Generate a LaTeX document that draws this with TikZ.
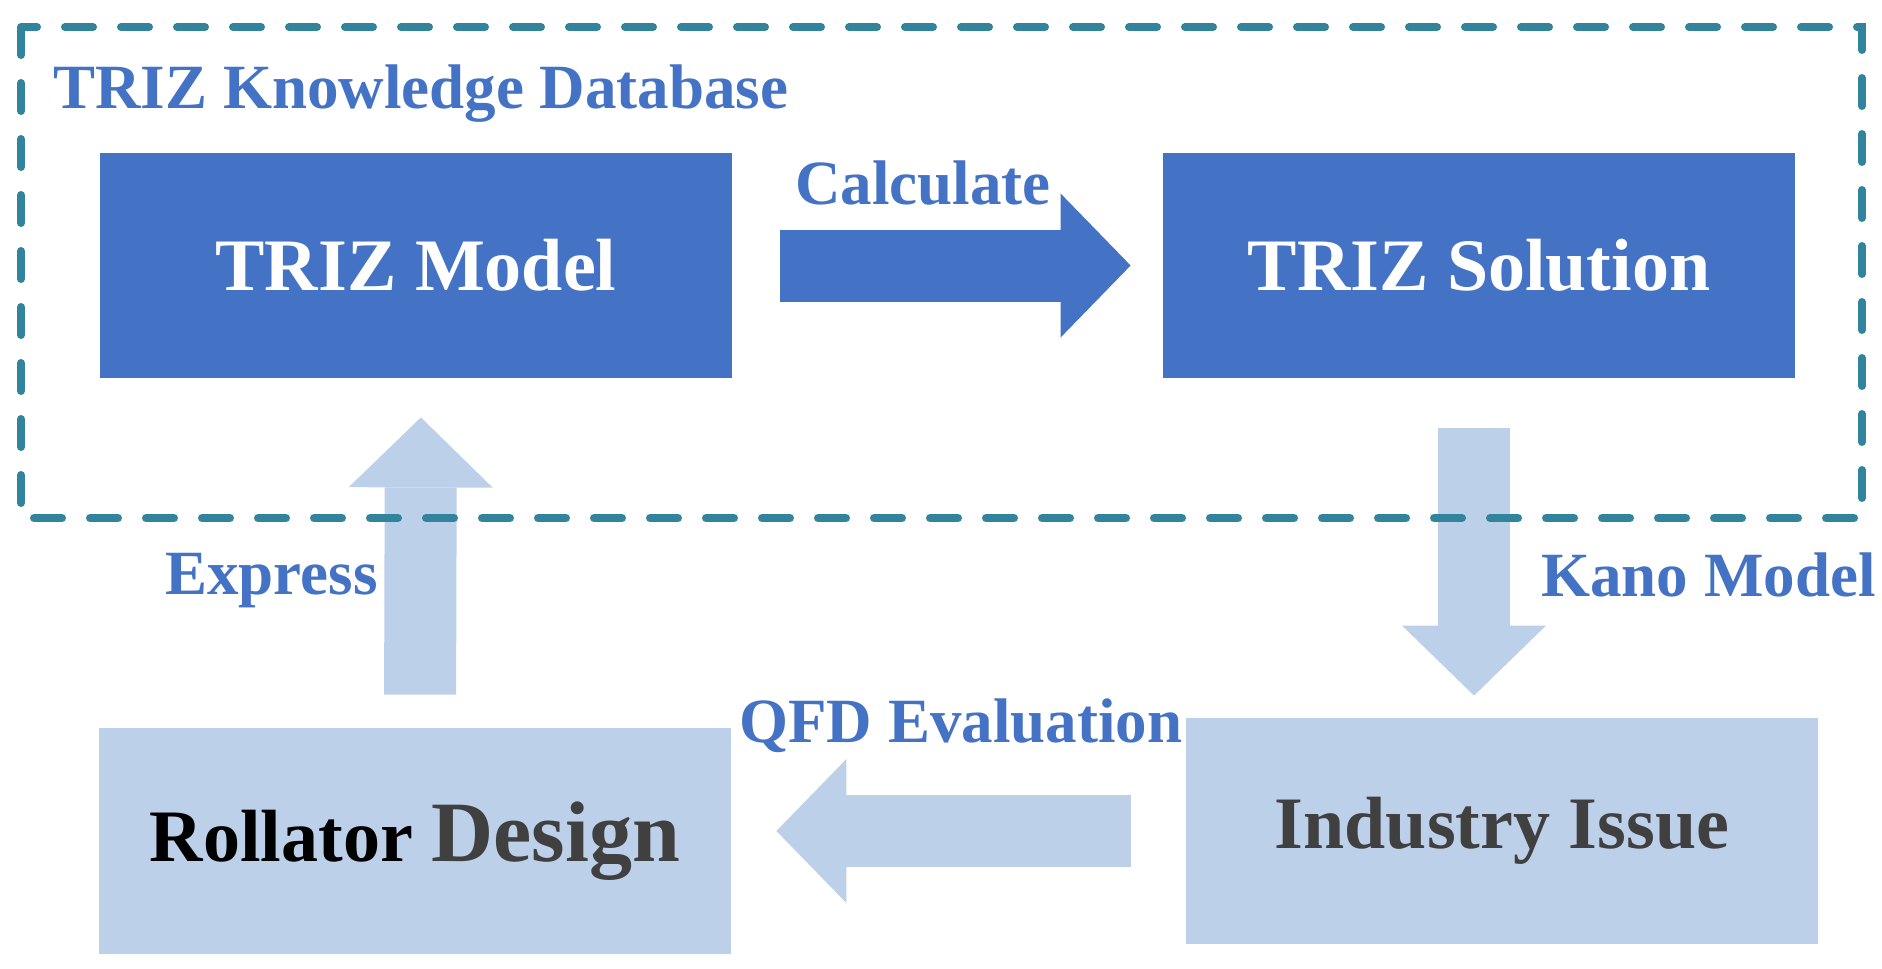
\documentclass[tikz,border=0pt]{standalone}
\usepackage{fontspec}
\setmainfont{Liberation Serif}
\usetikzlibrary{arrows.meta}

\definecolor{trizblue}{HTML}{4472C4}
\definecolor{paleblue}{HTML}{BDD0EA}
\definecolor{kbteal}{HTML}{31849B}
\definecolor{textgray}{HTML}{404040}

\tikzset{
  darkbox/.style={fill=trizblue, text=white, inner sep=0pt,
    minimum width=316pt, minimum height=112.5pt,
    font=\bfseries\fontsize{37}{40}\selectfont},
  palebox/.style={fill=paleblue, text=textgray, inner sep=0pt,
    minimum width=316pt, minimum height=113pt,
    font=\bfseries\fontsize{37}{40}\selectfont},
  flowlabel/.style={text=trizblue, inner sep=0pt, anchor=base west,
    font=\bfseries\fontsize{31.5}{34}\selectfont},
  fatarrow/.style={line width=36pt,
    -{Triangle[length=35pt, width=72pt, line width=0pt]}},
  kbframe/.style={draw=kbteal, line width=4pt, line cap=round,
    dash pattern=on 14pt off 14pt},
}

\begin{document}
\begin{tikzpicture}[x=0.5pt, y=-0.5pt]
  \useasboundingbox (0,0) rectangle (1882,968);
  % boxes
  \node[darkbox] (model) at (416,265.5) {TRIZ Model};
  \node[darkbox] (solution) at (1479,265.5) {TRIZ Solution};
  \node[palebox] (issue) at (1502,831) {Industry Issue};
  \node[palebox] (design) at (415,841)
    {\textcolor{black}{Rollator} {\fontsize{43}{46}\selectfont Design}};
  % arrows
  \draw[fatarrow, draw=trizblue, fill=trizblue, shorten <=24pt, shorten >=16pt]
    (model) -- (solution);
  \draw[fatarrow, draw=paleblue, fill=paleblue, shorten <=25pt, shorten >=11pt]
    ([xshift=-2.5pt]solution.south) -- ([xshift=-2.5pt]solution.south |- issue.north);
  \draw[fatarrow, draw=paleblue, fill=paleblue, shorten <=27.5pt, shorten >=22.5pt]
    (issue.west) -- (issue.west -| design.east);
  \draw[fatarrow, draw=paleblue, fill=paleblue, shorten <=16.5pt, shorten >=19.5pt]
    ([xshift=2.5pt]design.north) -- ([xshift=2.5pt]model.south);
  % labels
  \node[flowlabel] (kblabel) at (53,109) {TRIZ Knowledge Database};
  \node[flowlabel] (calclabel) at (795,205) {Calculate};
  \node[flowlabel] (explabel) at (165,594) {Express};
  \node[flowlabel] (kanolabel) at (1541,596) {Kano Model};
  \node[flowlabel] (qfdlabel) at (739,742) {QFD Evaluation};
  % knowledge database frame
  \draw[kbframe] (21,27) rectangle (1862,518);
\end{tikzpicture}
\end{document}
